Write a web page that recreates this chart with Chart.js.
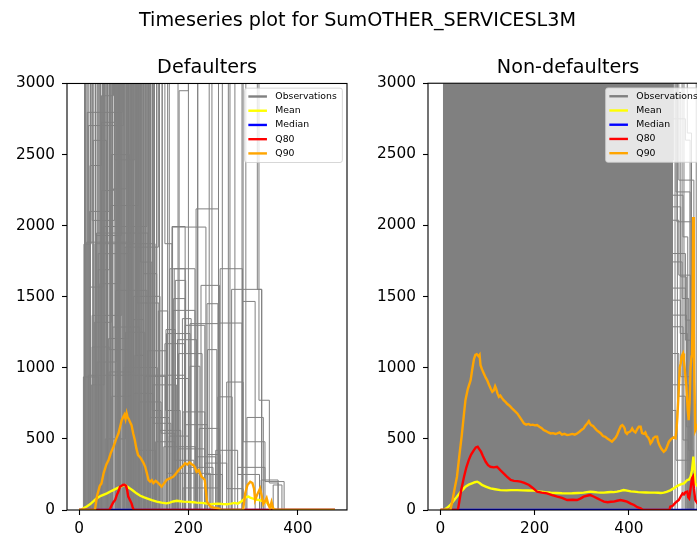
<!DOCTYPE html>
<html>
<head>
<meta charset="utf-8">
<script src="https://cdn.jsdelivr.net/npm/chart.js@4.4.1/dist/chart.umd.min.js"></script>
<style>
  html, body { margin: 0; padding: 0; background: #fff; overflow: hidden; }
  #fig { position: relative; width: 697px; height: 536px; overflow: hidden; background: #fff; }
  #fig canvas { position: absolute; top: 0; }
  #defaulters { left: 0; width: 715px; height: 536px; }
  #nonDefaulters { left: 360px; width: 360px; height: 536px; }
</style>
</head>
<body>
<div id="fig">
  <canvas id="defaulters" width="715" height="536"></canvas>
  <canvas id="nonDefaulters" width="360" height="536"></canvas>
</div>
<script>
// ---- text ----
const figureTitle = 'Timeseries plot for SumOTHER_SERVICESL3M';
const panelTitles = ['Defaulters', 'Non-defaulters'];
const legendLabels = ['Observations', 'Mean', 'Median', 'Q80', 'Q90'];

// ---- axis ticks ----
const yTicks = [0, 500, 1000, 1500, 2000, 2500, 3000];
const xTicks = [0, 200, 400];

// ---- Defaulters: summary statistics per day [day, value] ----
const defaulterMean = [[0,0],[4,2],[8,12],[14,25],[20,40],[26,60],[32,82],[40,100],[51,117],[60,135],[69,152],[76,165],[81,172],[84,176],[88,165],[93,152],[99,135],[105,117],[112,100],[118,90],[124,82],[133,70],[142,59],[151,52],[160,47],[166,52],[172,60],[179,65],[185,62],[191,59],[200,57],[209,55],[215,52],[225,50],[234,45],[240,40],[247,43],[254,45],[262,42],[270,40],[278,45],[285,50],[290,45],[295,55],[300,70],[305,90],[310,94],[314,85],[317,82],[322,75],[326,72],[329,70],[334,65],[338,62],[342,59],[346,40],[349,30],[352,20],[356,8],[360,0],[468,0]];
const defaulterMedian = [[0,0],[100,0],[200,0],[300,0],[400,0],[468,0]];
const defaulterQ80 = [[0,0],[55,0],[57,12],[62,50],[66,70],[69,105],[72,130],[75,164],[78,170],[80,176],[83,178],[86,170],[88,140],[90,94],[93,70],[96,47],[98,20],[100,0],[468,0]];
const defaulterQ90 = [[0,0],[29,0],[33,100],[38,170],[41,187],[45,260],[50,320],[54,351],[58,400],[63,445],[68,500],[72,538],[76,600],[78,632],[81,655],[83,670],[85,640],[87,680],[89,650],[91,640],[93,620],[96,597],[99,540],[102,492],[105,430],[108,386],[112,370],[115,351],[118,330],[121,304],[124,260],[127,211],[130,200],[133,210],[136,190],[140,205],[142,199],[146,185],[151,164],[156,190],[160,211],[166,222],[172,234],[176,250],[180,270],[185,293],[190,310],[194,328],[198,320],[202,335],[206,322],[209,316],[212,300],[215,269],[219,280],[224,234],[227,225],[230,211],[234,59],[238,35],[242,20],[250,15],[256,10],[260,0],[300,0],[304,120],[308,176],[313,199],[317,190],[320,150],[322,70],[326,110],[331,152],[334,100],[337,42],[340,60],[343,84],[346,40],[349,14],[352,56],[355,10],[358,0],[468,0]];

// ---- Defaulters: individual customer series [day, value], stepped ----
const defaulterObservations = [
  [[15,0],[15,2797],[79,4600],[112,0]],
  [[14,0],[14,1884],[99,3800],[118,0]],
  [[17,0],[17,2704],[81,5200],[104,1088],[118,0]],
  [[20,0],[20,2423],[41,2914],[63,6100],[96,0]],
  [[41,0],[41,2727],[66,4800],[88,0]],
  [[12,0],[12,4200],[65,2463],[102,7000],[128,0]],
  [[41,0],[41,2247],[63,2259],[86,5400],[109,0]],
  [[57,0],[57,2142],[108,3900],[134,0]],
  [[10,0],[10,5100],[24,2037],[65,6400],[93,0]],
  [[44,0],[44,1994],[124,4300],[147,0]],
  [[32,0],[32,1948],[126,0]],
  [[25,0],[25,3700],[30,1931],[77,5800],[99,0]],
  [[29,0],[29,1873],[139,0]],
  [[84,0],[84,1849],[145,3300],[165,0]],
  [[35,0],[35,1803],[96,6800],[121,0]],
  [[75,0],[75,4100],[112,1744],[133,0]],
  [[35,0],[35,1690],[56,5700],[84,0]],
  [[90,0],[90,3400],[118,1662],[142,0]],
  [[38,0],[38,1592],[75,4900],[100,0]],
  [[20,0],[20,1568],[44,3600],[70,0]],
  [[67,0],[67,1545],[124,0]],
  [[100,0],[100,1503],[148,0]],
  [[58,0],[58,6300],[106,1456],[146,0]],
  [[24,0],[24,1369],[78,3900],[107,0]],
  [[99,0],[99,1339],[118,0]],
  [[62,0],[62,1287],[111,0]],
  [[54,0],[54,1206],[90,5300],[115,0]],
  [[24,0],[24,1147],[55,1128],[93,0]],
  [[33,0],[33,1041],[68,4400],[91,0]],
  [[102,0],[102,1088],[118,0]],
  [[82,0],[82,1002],[143,0]],
  [[55,0],[55,971],[100,0]],
  [[17,0],[17,948],[194,0]],
  [[8,0],[8,936],[36,0]],
  [[9,0],[9,1870],[22,4000],[48,0]],
  [[47,0],[47,7500],[72,0]],
  [[52,0],[52,3500],[60,8000],[80,0]],
  [[88,0],[88,6000],[103,0]],
  [[109,0],[109,4700],[121,0]],
  [[70,0],[70,5000],[130,0]],
  [[115,0],[115,3800],[134,700],[150,0]],
  [[26,0],[26,2600],[50,0]],
  [[48,0],[48,500],[85,1250],[120,0]],
  [[60,0],[60,800],[95,420],[140,0]],
  [[64,0],[64,5500],[77,0]],
  [[93,0],[93,4400],[110,0]],
  [[79,0],[79,3800],[97,0]],
  [[106,0],[106,5000],[114,0]],
  [[56,0],[56,6600],[68,0]],
  [[40,0],[40,4000],[52,0]],
  [[30,0],[30,6000],[37,0]],
  [[11,0],[11,6200],[45,0]],
  [[13,0],[13,3300],[31,5200],[58,0]],
  [[16,0],[16,7100],[52,0]],
  [[18,0],[18,4500],[39,0]],
  [[19,0],[19,2100],[55,6000],[83,0]],
  [[21,0],[21,5300],[71,0]],
  [[23,0],[23,880],[46,3900],[87,0]],
  [[27,0],[27,6800],[61,0]],
  [[28,0],[28,1320],[59,2500],[92,0]],
  [[31,0],[31,4700],[74,0]],
  [[34,0],[34,7200],[82,0]],
  [[36,0],[36,3300],[67,0]],
  [[39,0],[39,5900],[98,0]],
  [[43,0],[43,4100],[91,0]],
  [[46,0],[46,6700],[113,0]],
  [[50,0],[50,5200],[86,0]],
  [[53,0],[53,3900],[104,0]],
  [[59,0],[59,4800],[117,0]],
  [[61,0],[61,7400],[89,0]],
  [[66,0],[66,3600],[101,0]],
  [[69,0],[69,5600],[123,0]],
  [[72,0],[72,4300],[94,0]],
  [[76,0],[76,6900],[110,0]],
  [[81,0],[81,3700],[127,0]],
  [[86,0],[86,5100],[136,0]],
  [[91,0],[91,4600],[119,0]],
  [[95,0],[95,3900],[131,0]],
  [[97,0],[97,6200],[105,0]],
  [[103,0],[103,5400],[138,0]],
  [[111,0],[111,4000],[125,0]],
  [[117,0],[117,3500],[128,0]],
  [[100,0],[100,820],[135,610],[168,0]],
  [[110,0],[110,760],[150,540],[175,0]],
  [[120,0],[120,940],[158,700],[185,0]],
  [[125,0],[125,1120],[160,0]],
  [[130,0],[130,650],[165,0]],
  [[135,0],[135,880],[178,0]],
  [[145,0],[145,1400],[162,0]],
  [[148,0],[148,560],[186,0]],
  [[121,0],[121,5200],[130,0]],
  [[130,0],[130,5000],[142,0]],
  [[134,0],[134,3600],[147,0]],
  [[142,0],[142,4500],[152,0]],
  [[152,0],[152,3800],[157,1873],[170,0]],
  [[162,0],[162,3900],[181,0]],
  [[170,0],[170,1994],[194,0]],
  [[171,0],[171,1990],[232,0]],
  [[183,0],[183,2949],[200,4300],[217,0]],
  [[214,0],[214,2118],[255,0]],
  [[166,0],[166,1697],[212,0]],
  [[174,0],[174,1697],[194,0]],
  [[258,0],[258,1697],[299,0]],
  [[176,0],[176,1615],[195,0]],
  [[223,0],[223,1580],[257,0]],
  [[279,0],[279,1552],[334,0]],
  [[300,0],[300,4000],[326,1552],[334,0]],
  [[173,0],[173,1487],[194,0]],
  [[299,0],[299,1467],[322,0]],
  [[234,0],[234,1451],[254,0]],
  [[172,0],[172,1404],[212,0]],
  [[189,0],[189,1346],[205,0]],
  [[203,0],[203,1311],[257,1315],[298,0]],
  [[194,0],[194,1299],[230,0]],
  [[159,0],[159,1269],[176,0]],
  [[180,0],[180,1198],[215,0]],
  [[235,0],[235,1128],[252,0]],
  [[182,0],[182,1100],[225,0]],
  [[203,0],[203,1011],[221,0]],
  [[160,0],[160,1241],[203,0]],
  [[157,0],[157,1170],[193,0]],
  [[176,0],[176,925],[200,0]],
  [[254,0],[254,796],[280,0]],
  [[305,0],[305,4200],[329,772],[348,190],[364,0]],
  [[307,0],[307,651],[337,0]],
  [[190,0],[190,690],[230,0]],
  [[220,0],[220,574],[257,0]],
  [[155,0],[155,445],[213,0]],
  [[213,0],[213,374],[250,0]],
  [[160,0],[160,258],[240,0]],
  [[333,0],[333,211],[364,0]],
  [[355,0],[355,176],[371,0]],
  [[190,0],[190,155],[256,0]],
  [[200,0],[200,5000],[217,0]],
  [[238,0],[238,6000],[243,0]],
  [[255,0],[255,4500],[262,0]],
  [[273,0],[273,5000],[276,0]],
  [[285,0],[285,3800],[298,0]],
  [[140,0],[140,480],[175,350],[210,0]],
  [[165,0],[165,520],[200,300],[245,0]],
  [[180,0],[180,430],[230,250],[262,0]],
  [[195,0],[195,600],[235,390],[258,0]],
  [[230,0],[230,330],[270,150],[300,0]],
  [[250,0],[250,420],[290,250],[330,0]],
  [[270,0],[270,900],[300,480],[340,0]],
  [[290,0],[290,300],[340,200],[375,0]],
  [[2,0],[490,0]]
];

// ---- Non-defaulters: summary statistics per day [day, value] ----
const nonDefaulterMean = [[0,0],[7,0],[14,15],[21,35],[28,65],[35,94],[42,125],[48,145],[53,164],[60,178],[67,187],[73,195],[78,199],[83,190],[88,176],[96,165],[106,152],[116,146],[127,140],[140,138],[150,140],[163,140],[175,138],[186,137],[198,136],[210,130],[222,125],[234,122],[246,120],[258,118],[269,117],[280,118],[292,120],[304,122],[311,126],[318,129],[325,127],[333,124],[340,122],[347,122],[355,125],[362,127],[368,126],[375,129],[382,134],[389,140],[396,136],[404,131],[411,129],[420,126],[428,124],[436,123],[446,122],[455,122],[462,121],[468,120],[474,122],[480,128],[488,138],[495,152],[503,170],[510,180],[517,187],[524,211],[528,215],[531,234],[534,280],[537,375],[539,300],[541,187],[545,170],[550,175]];
const nonDefaulterMedian = [[0,0],[100,0],[200,0],[300,0],[400,0],[500,0],[550,0]];
const nonDefaulterQ80 = [[0,0],[37,0],[40,60],[44,140],[50,234],[55,300],[60,351],[65,390],[71,421],[75,440],[79,445],[82,430],[86,410],[90,380],[96,339],[101,315],[106,304],[113,300],[120,304],[127,280],[134,258],[141,235],[149,211],[156,205],[163,203],[170,199],[178,190],[188,176],[196,155],[205,129],[215,122],[226,117],[237,105],[248,94],[258,85],[269,70],[280,72],[290,70],[297,80],[304,94],[311,100],[318,105],[325,95],[333,82],[340,70],[347,59],[355,55],[362,58],[368,59],[375,65],[382,70],[389,65],[396,59],[404,45],[411,35],[418,20],[425,12],[430,0],[486,0],[488,23],[493,30],[497,45],[502,60],[506,70],[510,95],[514,117],[517,110],[520,125],[524,129],[526,90],[528,82],[531,150],[534,222],[536,234],[538,150],[541,70],[545,50],[550,60]];
const nonDefaulterQ90 = [[0,0],[21,0],[25,60],[30,150],[35,234],[40,380],[45,520],[50,680],[53,772],[58,850],[64,913],[68,1000],[71,1060],[74,1090],[77,1095],[81,1080],[83,1090],[85,1018],[88,990],[92,960],[96,930],[99,913],[103,880],[107,850],[110,831],[113,840],[116,870],[118,854],[121,820],[124,796],[127,805],[130,790],[134,772],[138,760],[142,745],[146,735],[149,725],[153,710],[158,695],[163,679],[168,655],[173,630],[177,609],[182,600],[187,605],[191,597],[196,600],[200,595],[205,597],[210,585],[215,575],[219,562],[224,555],[229,545],[234,538],[239,540],[244,535],[248,538],[253,545],[258,530],[263,535],[269,527],[274,530],[280,535],[285,530],[290,538],[295,550],[300,565],[304,573],[308,595],[312,610],[315,625],[318,605],[320,597],[324,590],[328,575],[332,560],[336,550],[340,540],[345,520],[350,515],[355,500],[360,490],[364,480],[368,495],[372,510],[375,527],[379,560],[383,590],[386,597],[389,585],[391,573],[393,545],[396,535],[398,545],[402,550],[405,560],[407,573],[410,555],[414,545],[418,570],[421,585],[425,585],[428,540],[432,535],[435,545],[438,520],[441,510],[444,490],[446,468],[449,480],[452,505],[456,515],[460,515],[462,480],[465,455],[469,430],[474,410],[478,422],[481,445],[485,480],[490,500],[495,510],[499,504],[501,560],[503,655],[506,850],[508,1000],[510,1030],[512,1080],[515,1100],[517,1050],[519,980],[522,870],[525,700],[527,632],[529,760],[531,1000],[533,1080],[534,1100],[535,1300],[536.5,2060],[538,1300],[539,900],[541,562],[543,580],[546,600],[550,580]];

// ---- Non-defaulters: individual customer series ----
// days 5-494 are covered by so many customers that the lines form one solid block
const nonDefaulterDenseSpan = [[5,8000],[494,8000]];
const nonDefaulterObservations = [
  [[480,3600],[506,2319],[538,0]],
  [[485,4000],[500,2236],[530,0]],
  [[467,2459],[495,4500],[513,0]],
  [[488,2213],[515,1920],[525,0]],
  [[490,2131],[510,1639],[522,0]],
  [[480,5000],[502,2026],[538,0]],
  [[488,1803],[520,1335],[530,0]],
  [[490,1744],[513,1487],[527,0]],
  [[486,2037],[506,1651],[531,0]],
  [[488,1560],[520,1194],[535,0]],
  [[488,1475],[510,937],[529,0]],
  [[490,1370],[522,585],[531,0]],
  [[488,1288],[515,492],[526,0]],
  [[485,4500],[495,3400],[543,0]],
  [[480,2750],[520,2600],[530,0]],
  [[488,1100],[506,800],[520,0]],
  [[488,700],[500,350],[531,0]],
  [[488,4000],[517,0]],
  [[492,3300],[524,2650],[533,0]],
  [[490,880],[527,420],[537,0]],
  [[494,2900],[509,1241],[524,0]],
  [[480,6000],[498,0]],
  [[490,5000],[503,0]]
];

// ---- drawing ----
const GREY = '#808080';
const SERIES_COLORS = ['#808080', '#ffff00', '#0000ff', '#ff0000', '#ffa500'];
Chart.defaults.font.family = "'DejaVu Sans', sans-serif";
Chart.defaults.color = '#000';

// axes frame on all four sides, drawn over the data
const framePlugin = {
  id: 'axesFrame',
  afterDatasetsDraw(chart) {
    const { ctx, chartArea: a } = chart;
    ctx.save();
    ctx.strokeStyle = '#000';
    ctx.lineWidth = 1.1;
    ctx.strokeRect(a.left, a.top, a.right - a.left, a.bottom - a.top);
    ctx.restore();
  }
};

// legend box placed inside the plot area, upper right
const insetLegendPlugin = {
  id: 'insetLegend',
  afterDraw(chart, _args, opts) {
    const { ctx, chartArea: a } = chart;
    const fs = opts.fontSize;
    ctx.save();
    ctx.font = fs + "px 'DejaVu Sans'";
    const textW = Math.max(...opts.items.map(it => ctx.measureText(it.label).width));
    const w = textW + 3.9 * fs;
    const h = 8.0 * fs;
    const x = a.right - 0.5 * fs - w;
    const y = a.top + 0.5 * fs;
    ctx.beginPath();
    if (ctx.roundRect) ctx.roundRect(x, y, w, h, 0.25 * fs); else ctx.rect(x, y, w, h);
    ctx.fillStyle = 'rgba(255,255,255,0.8)';
    ctx.fill();
    ctx.strokeStyle = 'rgba(204,204,204,0.8)';
    ctx.lineWidth = 1;
    ctx.stroke();
    ctx.textBaseline = 'middle';
    ctx.textAlign = 'left';
    opts.items.forEach((it, i) => {
      const cy = y + 0.9 * fs + i * 1.53 * fs;
      ctx.beginPath();
      ctx.moveTo(x + 0.4 * fs, cy);
      ctx.lineTo(x + 2.4 * fs, cy);
      ctx.strokeStyle = it.color;
      ctx.lineWidth = 2.4;
      ctx.stroke();
      ctx.fillStyle = '#000';
      ctx.fillText(it.label, x + 3.3 * fs, cy);
    });
    ctx.restore();
  }
};

function buildDatasets(p) {
  const ds = [];
  (p.spans || []).forEach(s => ds.push({
    data: s, borderWidth: 0, borderColor: GREY, backgroundColor: GREY,
    fill: 'origin', pointRadius: 0, order: 20
  }));
  p.observations.forEach(o => ds.push({
    data: o, borderColor: GREY, borderWidth: 1, stepped: true,
    pointRadius: 0, fill: false, order: 10
  }));
  [[p.mean, SERIES_COLORS[1], 4], [p.median, SERIES_COLORS[2], 3],
   [p.q80, SERIES_COLORS[3], 2], [p.q90, SERIES_COLORS[4], 1]].forEach(([d, c, o]) => ds.push({
    data: d, borderColor: c, borderWidth: 2.4, pointRadius: 0, fill: false, order: o, clip: 0
  }));
  return ds;
}

function panelConfig(p) {
  const titleFont = { size: 19.2, weight: 'normal' };
  const plugins = {
    legend: { display: false },
    tooltip: { enabled: false },
    insetLegend: {
      fontSize: 9.3,
      items: legendLabels.map((l, i) => ({ label: l, color: SERIES_COLORS[i] }))
    }
  };
  if (p.suptitle) {
    plugins.title = { display: true, text: p.suptitle, fullSize: true, font: titleFont, color: '#000', padding: { top: 9.3, bottom: 23.9 } };
    plugins.subtitle = { display: true, text: p.title, fullSize: false, font: titleFont, color: '#000', padding: { top: 0, bottom: 4.2 } };
  } else {
    plugins.title = { display: true, text: p.title, fullSize: false, font: titleFont, color: '#000', padding: { top: 56, bottom: 4.2 } };
    plugins.subtitle = { display: false };
  }
  const tickGrid = { display: true, drawOnChartArea: false, drawTicks: true, tickLength: 5, tickColor: '#000', tickWidth: 1.1 };
  return {
    type: 'line',
    data: { datasets: buildDatasets(p) },
    options: {
      responsive: false,
      animation: false,
      events: [],
      layout: { padding: 0 },
      plugins,
      scales: {
        x: {
          type: 'linear', min: p.xMin, max: p.xMax,
          afterBuildTicks: s => { s.ticks = xTicks.map(v => ({ value: v })); },
          afterFit: s => { s.height = 26; },
          grid: tickGrid, border: { display: false },
          ticks: { font: { size: 15.3 }, color: '#000', padding: 5, maxRotation: 0, autoSkip: false, callback: v => String(v) }
        },
        y: {
          type: 'linear', min: 0, max: 3000,
          afterBuildTicks: s => { s.ticks = yTicks.map(v => ({ value: v })); },
          afterFit: s => { s.width = p.yAxisWidth; },
          grid: tickGrid, border: { display: false },
          ticks: { font: { size: 15.3 }, color: '#000', padding: 7, autoSkip: false, callback: v => String(v) }
        },
        yRightGap: {
          type: 'linear', position: 'right', display: true,
          afterFit: s => { s.width = p.rightGap; },
          grid: { display: false }, border: { display: false }, ticks: { display: false }
        }
      }
    },
    plugins: [framePlugin, insetLegendPlugin]
  };
}

new Chart(document.getElementById('defaulters'), panelConfig({
  suptitle: figureTitle, title: panelTitles[0],
  xMin: -22, xMax: 490, yAxisWidth: 67, rightGap: 368,
  observations: defaulterObservations,
  mean: defaulterMean, median: defaulterMedian, q80: defaulterQ80, q90: defaulterQ90
}));

new Chart(document.getElementById('nonDefaulters'), panelConfig({
  title: panelTitles[1],
  xMin: -26.5, xMax: 568, yAxisWidth: 68, rightGap: 12,
  spans: [nonDefaulterDenseSpan],
  observations: nonDefaulterObservations,
  mean: nonDefaulterMean, median: nonDefaulterMedian, q80: nonDefaulterQ80, q90: nonDefaulterQ90
}));
</script>
</body>
</html>
